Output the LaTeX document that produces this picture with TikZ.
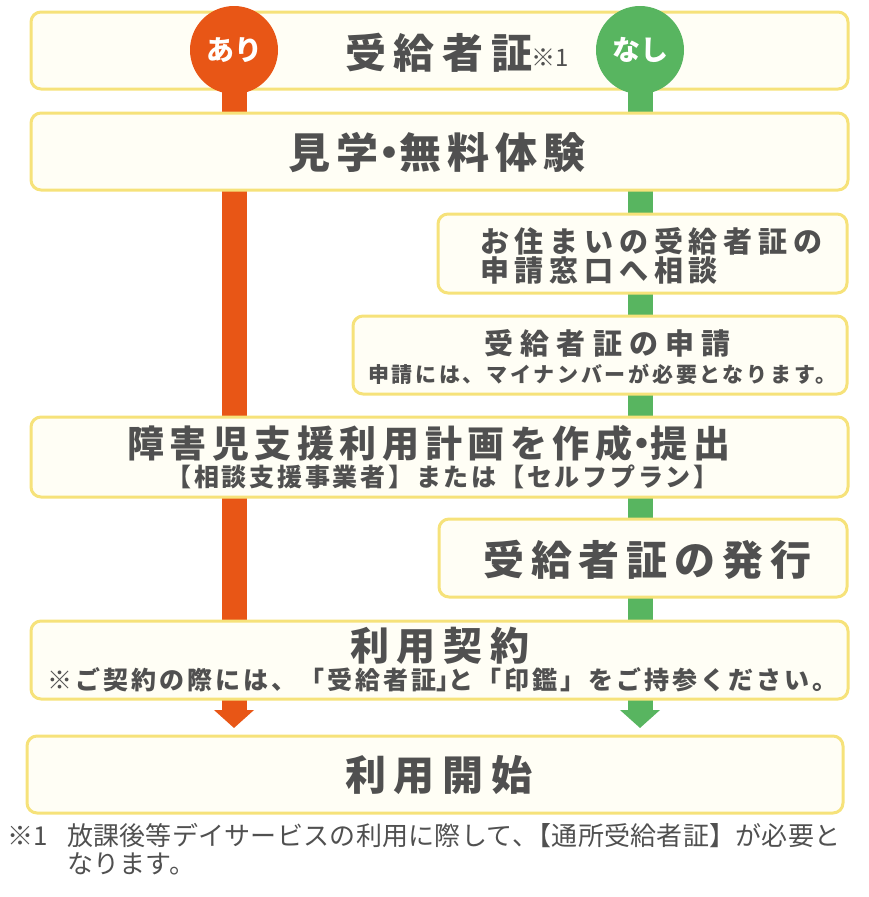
\documentclass[tikz,border=0pt]{standalone}
\usepackage{fontspec}
\newfontfamily\jp{Noto Sans CJK JP}
\usetikzlibrary{arrows.meta}
\definecolor{ori}{RGB}{232,86,22}
\definecolor{grn}{RGB}{88,181,96}
\definecolor{ybd}{RGB}{246,226,122}
\definecolor{yfl}{RGB}{255,254,245}
\definecolor{txg}{RGB}{80,80,80}
\newcommand{\lsp}[3]{{\jp\fontsize{#1}{#1}\selectfont\addfontfeatures{LetterSpace=#2}#3\kern-\dimexpr#1pt*#2/100\relax}}
\newcommand{\hw}[1]{{\addfontfeatures{RawFeature=+halt}#1}}
\pgfdeclarelayer{bg}
\pgfsetlayers{bg,main}
\tikzset{
  box/.style={draw=ybd, line width=3pt, fill=yfl, rounded corners=10pt, inner sep=0pt},
  txt/.style={text=txg, inner sep=0pt, font=\jp\bfseries},
  ntxt/.style={text=txg, inner sep=0pt, font=\jp},
  dot/.style={circle, inner sep=0pt, minimum size=88pt, text=white, font=\jp\bfseries\fontsize{28}{28}\selectfont},
  flow/.style={line width=25pt}
}
\begin{document}
\begin{tikzpicture}[x=1pt,y=-1pt]
\useasboundingbox (0,0) rectangle (868,897);
% boxes
\node[box, minimum width=817pt, minimum height=77pt] (b1) at (439.5,50.5) {};
\node[box, minimum width=817pt, minimum height=77pt] (b2) at (439.5,151.5) {};
\node[box, minimum width=409pt, minimum height=79pt] (b3) at (642.5,253.5) {};
\node[box, minimum width=494pt, minimum height=78pt] (b4) at (600,355) {};
\node[box, minimum width=817pt, minimum height=80pt] (b5) at (439.5,457) {};
\node[box, minimum width=408pt, minimum height=78pt] (b6) at (643,558) {};
\node[box, minimum width=817pt, minimum height=78pt] (b7) at (439.5,660) {};
\node[box, minimum width=816pt, minimum height=77pt] (b8) at (435,774.5) {};
% circles
\node[dot, fill=ori] (ari) at (234,50) {あり};
\node[dot, fill=grn] (nashi) at (640,50) {なし};
\coordinate (ariEnd) at (234,728);
\coordinate (nashiEnd) at (640,728);
\begin{pgfonlayer}{bg}
\draw[flow, ori, -{Triangle[width=39pt,length=18pt]}] (ari.center) -- (ariEnd);
\draw[flow, grn, -{Triangle[width=39pt,length=18pt]}] (nashi.center) -- (nashiEnd);
\end{pgfonlayer}
% texts
\node[txt] (t1) at (435,53) {\lsp{41}{19}{受給者証}};
\node[ntxt, anchor=west] (t1n) at (531,58) {\lsp{24}{0}{※1}};
\node[txt] (t2) at (434,153) {\lsp{42}{14}{見学\hw{・}無料体験}};
\node[txt, anchor=west] (t3a) at (480,241) {\lsp{29}{20}{お住まいの受給者証の}};
\node[txt, anchor=west] (t3b) at (480,271) {\lsp{29}{20}{申請窓口へ相談}};
\node[txt] (t4a) at (604,343) {\lsp{29}{25}{受給者証の申請}};
\node[txt] (t4b) at (601,374) {\lsp{21}{13}{申請には、マイナンバーが必要となります。}};
\node[txt] (t5a) at (426,443) {\lsp{37}{15}{障害児支援利用計画を作成\hw{・}提出}};
\node[txt] (t5b) at (441,477) {\lsp{25}{11}{【相談支援事業者】または【セルフプラン】}};
\node[txt] (t6) at (644,560) {\lsp{41}{17}{受給者証の発行}};
\node[txt] (t7a) at (436,646) {\lsp{39}{20}{利用契約}};
\node[txt] (t7b) at (441,680) {\lsp{25}{12}{※ご契約の際には、「受給者証\hw{」}と「印鑑」をご持参ください。}};
\node[txt] (t8) at (435,775) {\lsp{41}{19}{利用開始}};
\node[ntxt, anchor=west] (f1) at (7,836) {\lsp{26}{0}{※1}};
\node[ntxt, anchor=west] (f2) at (67,836) {\lsp{26}{1}{放課後等デイサービスの利用に際して\hw{、}【通所受給者証】が必要と}};
\node[ntxt, anchor=west] (f3) at (67,864) {\lsp{26}{1}{なります。}};
\end{tikzpicture}
\end{document}
